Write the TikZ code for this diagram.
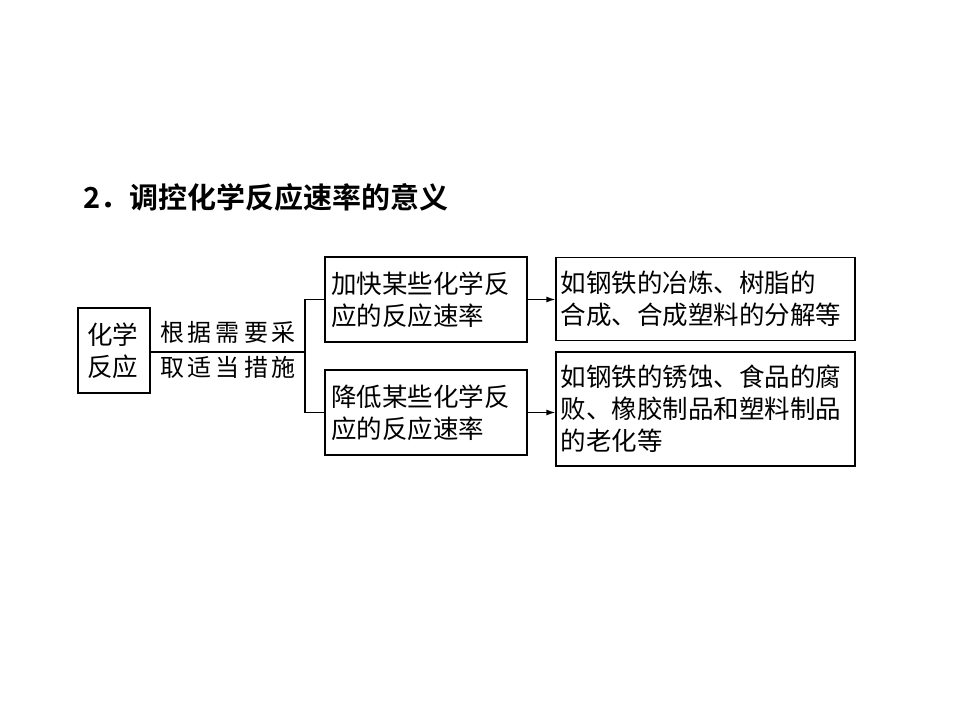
\documentclass[tikz,border=0pt]{standalone}
\usepackage{fontspec}
\usetikzlibrary{arrows.meta}
\newfontfamily\cjk{Noto Sans CJK SC}
\newfontfamily\cjkb{Noto Sans CJK SC Bold}
\begin{document}
\begin{tikzpicture}[x=1pt,y=-1pt,
  bx/.style={draw,line width=1.3pt,inner sep=0pt,font=\cjk\fontsize{25.5}{32}\selectfont,align=left},
  tx/.style={inner sep=0pt,font=\cjk\fontsize{24}{32}\selectfont},
  ln/.style={line width=1.3pt},
  ar/.style={ln,-{Latex[length=9pt,width=6pt]}}]
\useasboundingbox (0,0) rectangle (960,720);
\node[inner sep=0pt,anchor=west,font=\cjkb\fontsize{29}{32}\selectfont] (title) at (83,197) {2．调控化学反应速率的意义};
\node[bx,minimum width=72,minimum height=85,text width=54] (a) at (114,350.5) {化学\\反应};
\node[tx,anchor=south] (t1) at (228,344) {根\,据\,需\,要\,采};
\node[tx,anchor=north] (t2) at (228,356) {取\,适\,当\,措\,施};
\coordinate (j) at (305,352);
\node[bx,minimum width=202,minimum height=85,text width=190] (b1) at (426,299.5) {加快某些化学反\\应的反应速率};
\node[bx,minimum width=202,minimum height=85,text width=190] (b2) at (426,412.5) {降低某些化学反\\应的反应速率};
\node[bx,minimum width=299,minimum height=83,text width=290] (c1) at (705.5,299) {如钢铁的冶炼、树脂的\\合成、合成塑料的分解等};
\node[bx,minimum width=299,minimum height=114,text width=290] (c2) at (705.5,409) {如钢铁的锈蚀、食品的腐\\败、橡胶制品和塑料制品\\的老化等};
\draw[ln] (a.east |- j) -- (j);
\draw[ln] (b1.west) -| (j) |- (b2.west);
\draw[ar] (b1.east) -- (c1.west |- b1.east);
\draw[ar] (b2.east) -- (c2.west |- b2.east);
\end{tikzpicture}
\end{document}
